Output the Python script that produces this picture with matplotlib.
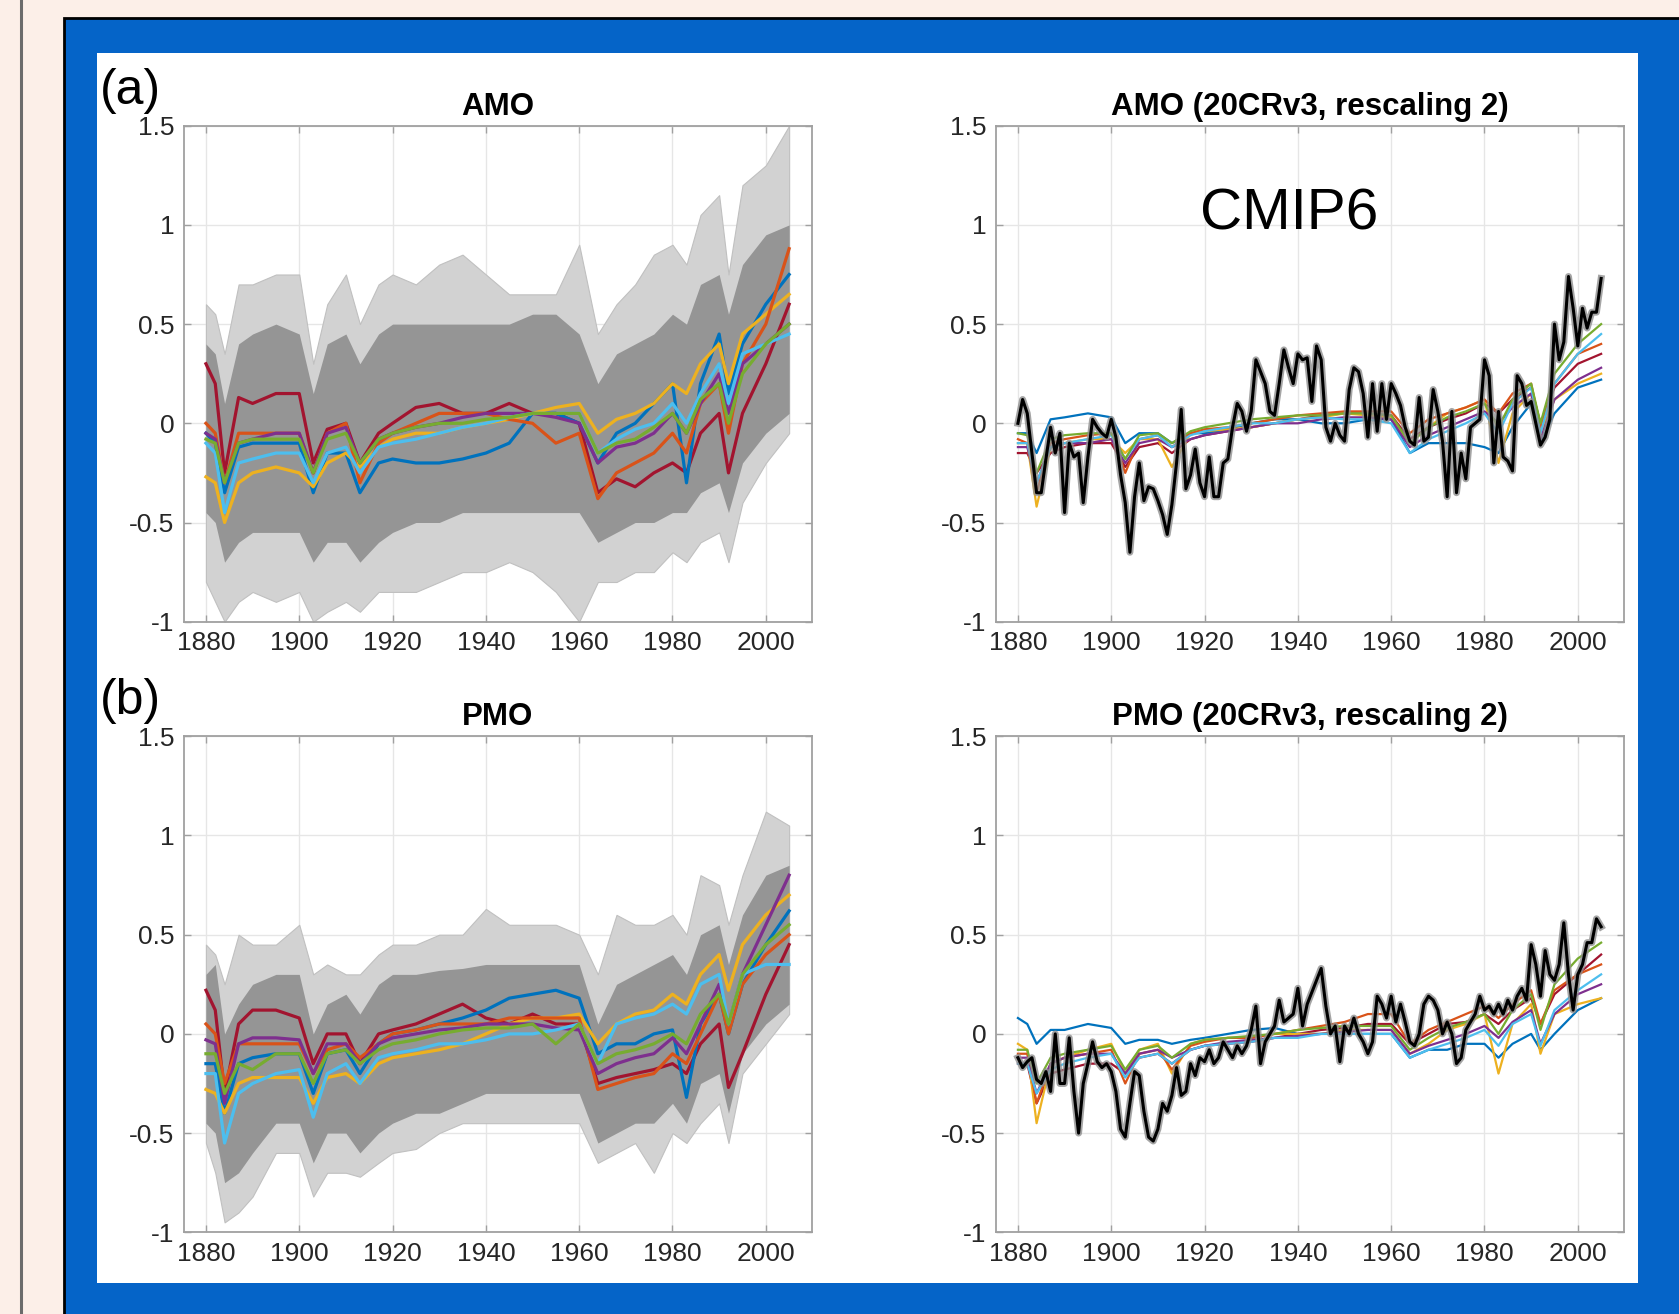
import numpy as np
import matplotlib.pyplot as plt
from matplotlib.patches import Rectangle
from matplotlib.lines import Line2D

plt.rcParams['font.family'] = ['Liberation Sans', 'DejaVu Sans']

# ---------------- data ----------------
years = np.arange(1880, 2006)

# key years used for the model means and the grey ensemble envelope
yrs_k = [1880, 1882, 1884, 1887, 1890, 1895, 1900, 1903, 1906, 1910, 1913,
         1917, 1920, 1925, 1930, 1935, 1940, 1945, 1950, 1955, 1960, 1964,
         1968, 1972, 1976, 1980, 1983, 1986, 1990, 1992, 1995, 2000, 2005]

# MATLAB default line colours, one per model
mod_colors = ['#A2142F', '#0072BD', '#EDB120', '#D95319', '#7E2F8E', '#4DBEEE', '#77AC30']

# (a) AMO, CMIP6 ensemble members (grey envelope)
amo_out_hi = [0.6, 0.55, 0.35, 0.7, 0.7, 0.75, 0.75, 0.3, 0.6, 0.75, 0.5, 0.7, 0.75, 0.7, 0.8, 0.85, 0.75,
              0.65, 0.65, 0.65, 0.9, 0.45, 0.6, 0.7, 0.85, 0.9, 0.8, 1.05, 1.15, 0.75, 1.2, 1.3, 1.5]
amo_core_hi = [0.4, 0.35, 0.1, 0.4, 0.45, 0.5, 0.45, 0.15, 0.4, 0.45, 0.3, 0.45, 0.5, 0.5, 0.5, 0.5, 0.5,
               0.5, 0.55, 0.55, 0.45, 0.2, 0.35, 0.4, 0.45, 0.55, 0.5, 0.7, 0.75, 0.55, 0.8, 0.95, 1.0]
amo_core_lo = [-0.45, -0.5, -0.7, -0.6, -0.55, -0.55, -0.55, -0.7, -0.6, -0.6, -0.7, -0.6, -0.55, -0.5, -0.5,
               -0.45, -0.45, -0.45, -0.45, -0.45, -0.45, -0.6, -0.55, -0.5, -0.5, -0.45, -0.45, -0.35, -0.3,
               -0.45, -0.2, -0.05, 0.05]
amo_out_lo = [-0.8, -0.9, -1.0, -0.9, -0.85, -0.9, -0.85, -1.0, -0.95, -0.9, -0.95, -0.85, -0.85, -0.85, -0.8,
              -0.75, -0.75, -0.7, -0.75, -0.85, -1.0, -0.8, -0.8, -0.75, -0.75, -0.65, -0.7, -0.6, -0.55,
              -0.7, -0.4, -0.2, -0.05]

# (a) AMO, model means (left)
amo_mod = [
    [0.3, 0.2, -0.25, 0.13, 0.1, 0.15, 0.15, -0.2, -0.03, 0.0, -0.2, -0.05, 0.0, 0.08, 0.1, 0.05, 0.05,
     0.1, 0.05, 0.05, 0.0, -0.35, -0.28, -0.32, -0.25, -0.2, -0.25, -0.05, 0.05, -0.25, 0.05, 0.3, 0.6],
    [-0.05, -0.1, -0.35, -0.12, -0.1, -0.1, -0.1, -0.35, -0.15, -0.15, -0.35, -0.2, -0.18, -0.2, -0.2, -0.18,
     -0.15, -0.1, 0.05, 0.05, 0.0, -0.2, -0.05, 0.0, 0.1, 0.2, -0.3, 0.2, 0.45, 0.15, 0.4, 0.6, 0.75],
    [-0.27, -0.3, -0.5, -0.3, -0.25, -0.22, -0.25, -0.32, -0.2, -0.15, -0.22, -0.12, -0.08, -0.05, -0.05,
     -0.02, 0.0, 0.02, 0.05, 0.08, 0.1, -0.05, 0.02, 0.05, 0.1, 0.2, 0.15, 0.3, 0.4, 0.2, 0.45, 0.55, 0.65],
    [0.0, -0.05, -0.3, -0.05, -0.05, -0.05, -0.05, -0.25, -0.05, 0.0, -0.3, -0.1, -0.05, 0.0, 0.05, 0.05,
     0.05, 0.02, 0.0, -0.1, -0.05, -0.38, -0.25, -0.2, -0.15, -0.05, -0.15, 0.1, 0.2, -0.05, 0.3, 0.5, 0.88],
    [-0.05, -0.08, -0.3, -0.1, -0.08, -0.05, -0.05, -0.25, -0.05, -0.02, -0.2, -0.08, -0.05, -0.02, 0.0,
     0.03, 0.05, 0.05, 0.05, 0.03, 0.0, -0.2, -0.12, -0.1, -0.05, 0.05, -0.05, 0.1, 0.25, 0.05, 0.3, 0.4, 0.5],
    [-0.1, -0.15, -0.45, -0.2, -0.18, -0.15, -0.15, -0.3, -0.15, -0.12, -0.25, -0.12, -0.1, -0.08, -0.05,
     -0.02, 0.0, 0.03, 0.05, 0.05, 0.05, -0.15, -0.08, -0.03, 0.0, 0.1, 0.0, 0.15, 0.3, 0.1, 0.35, 0.4, 0.45],
    [-0.08, -0.1, -0.3, -0.1, -0.08, -0.08, -0.08, -0.25, -0.08, -0.05, -0.2, -0.08, -0.05, -0.02, 0.0, 0.0,
     0.02, 0.03, 0.05, 0.05, 0.05, -0.15, -0.1, -0.08, -0.02, 0.05, -0.05, 0.12, 0.2, 0.0, 0.25, 0.4, 0.5],
]

# (b) PMO, CMIP6 ensemble members (grey envelope)
pmo_out_hi = [0.45, 0.4, 0.25, 0.5, 0.45, 0.45, 0.55, 0.3, 0.35, 0.3, 0.3, 0.4, 0.45, 0.45, 0.5, 0.5, 0.63,
              0.55, 0.55, 0.55, 0.5, 0.3, 0.6, 0.55, 0.55, 0.6, 0.5, 0.8, 0.75, 0.55, 0.8, 1.12, 1.05]
pmo_core_hi = [0.3, 0.35, 0.0, 0.15, 0.25, 0.3, 0.3, 0.0, 0.15, 0.2, 0.1, 0.25, 0.3, 0.3, 0.32, 0.33, 0.35,
               0.35, 0.35, 0.35, 0.35, 0.05, 0.25, 0.3, 0.35, 0.4, 0.3, 0.5, 0.55, 0.35, 0.6, 0.8, 0.85]
pmo_core_lo = [-0.45, -0.5, -0.75, -0.7, -0.6, -0.45, -0.45, -0.65, -0.5, -0.5, -0.6, -0.5, -0.45, -0.4,
               -0.4, -0.35, -0.3, -0.3, -0.3, -0.3, -0.3, -0.55, -0.5, -0.45, -0.45, -0.35, -0.45, -0.25,
               -0.2, -0.4, -0.1, 0.05, 0.15]
pmo_out_lo = [-0.55, -0.7, -0.95, -0.9, -0.82, -0.6, -0.6, -0.82, -0.7, -0.7, -0.72, -0.65, -0.6, -0.58,
              -0.5, -0.45, -0.45, -0.45, -0.45, -0.45, -0.45, -0.65, -0.6, -0.55, -0.7, -0.5, -0.55, -0.45,
              -0.35, -0.55, -0.2, -0.05, 0.1]

# (b) PMO, model means (left)
pmo_mod = [
    [0.22, 0.12, -0.3, 0.05, 0.12, 0.12, 0.08, -0.15, 0.0, 0.0, -0.15, 0.0, 0.02, 0.05, 0.1, 0.15, 0.08,
     0.05, 0.1, 0.05, 0.05, -0.25, -0.22, -0.2, -0.18, -0.15, -0.2, -0.05, 0.05, -0.27, -0.1, 0.2, 0.45],
    [-0.15, -0.15, -0.4, -0.15, -0.12, -0.1, -0.1, -0.3, -0.1, -0.08, -0.2, -0.05, 0.0, 0.02, 0.05, 0.08,
     0.12, 0.18, 0.2, 0.22, 0.18, -0.1, -0.05, -0.05, 0.0, 0.02, -0.32, 0.05, 0.2, 0.0, 0.25, 0.45, 0.62],
    [-0.28, -0.3, -0.4, -0.25, -0.22, -0.22, -0.22, -0.35, -0.22, -0.2, -0.25, -0.15, -0.12, -0.1, -0.08,
     -0.05, 0.0, 0.05, 0.08, 0.08, 0.1, -0.05, 0.05, 0.1, 0.12, 0.2, 0.15, 0.3, 0.4, 0.22, 0.45, 0.6, 0.7],
    [0.05, 0.0, -0.25, -0.05, -0.05, -0.05, -0.05, -0.2, -0.08, -0.05, -0.12, -0.05, 0.0, 0.02, 0.05, 0.05,
     0.05, 0.08, 0.08, 0.08, 0.08, -0.28, -0.25, -0.22, -0.2, -0.1, -0.15, 0.0, 0.2, 0.0, 0.25, 0.4, 0.5],
    [-0.03, -0.05, -0.35, -0.05, -0.02, -0.02, -0.03, -0.2, -0.05, -0.05, -0.15, -0.05, -0.02, 0.0, 0.02,
     0.03, 0.05, 0.05, 0.05, 0.03, 0.02, -0.2, -0.15, -0.12, -0.1, -0.02, -0.1, 0.05, 0.25, 0.05, 0.3, 0.55, 0.8],
    [-0.2, -0.2, -0.55, -0.3, -0.25, -0.2, -0.18, -0.42, -0.2, -0.15, -0.25, -0.12, -0.1, -0.08, -0.05,
     -0.05, -0.03, 0.0, 0.0, 0.02, 0.05, -0.15, 0.05, 0.08, 0.1, 0.15, 0.1, 0.25, 0.3, 0.05, 0.3, 0.35, 0.35],
    [-0.1, -0.1, -0.3, -0.15, -0.18, -0.1, -0.1, -0.25, -0.1, -0.08, -0.15, -0.08, -0.05, -0.03, 0.0, 0.02,
     0.03, 0.03, 0.05, -0.05, 0.05, -0.15, -0.1, -0.08, -0.05, 0.0, -0.05, 0.1, 0.2, 0.05, 0.3, 0.45, 0.55],
]

# AMO, rescaled model means (right)
amo_mod_rs = [
    [-0.15, -0.15, -0.25, -0.15, -0.12, -0.1, -0.1, -0.22, -0.12, -0.1, -0.15, -0.08, -0.06, -0.04, -0.02,
     0.0, 0.02, 0.04, 0.05, 0.05, 0.04, -0.08, -0.02, 0.02, 0.05, 0.1, 0.05, 0.12, 0.18, 0.0, 0.18, 0.3, 0.35],
    [-0.05, -0.05, -0.15, 0.02, 0.03, 0.05, 0.03, -0.1, -0.05, -0.05, -0.1, -0.05, -0.05, -0.03, 0.0, 0.02,
     0.02, 0.0, 0.0, 0.02, 0.02, -0.15, -0.1, -0.1, -0.1, -0.12, -0.15, -0.02, 0.1, -0.1, 0.05, 0.18, 0.22],
    [-0.1, -0.1, -0.42, -0.12, -0.1, -0.08, -0.08, -0.15, -0.08, -0.08, -0.22, -0.05, -0.04, -0.03, -0.02,
     0.0, 0.02, 0.03, 0.05, 0.04, 0.03, -0.1, -0.02, 0.05, 0.08, 0.12, -0.2, 0.05, 0.15, -0.05, 0.12, 0.2, 0.25],
    [-0.08, -0.1, -0.35, -0.1, -0.08, -0.06, -0.05, -0.25, -0.08, -0.06, -0.12, -0.05, -0.03, -0.02, 0.0,
     0.02, 0.04, 0.05, 0.06, 0.06, 0.06, -0.05, 0.02, 0.05, 0.08, 0.12, 0.05, 0.15, 0.2, -0.02, 0.2, 0.35, 0.4],
    [-0.12, -0.12, -0.3, -0.12, -0.1, -0.1, -0.08, -0.2, -0.1, -0.08, -0.12, -0.08, -0.06, -0.04, -0.02,
     0.0, 0.0, 0.02, 0.03, 0.03, 0.02, -0.12, -0.06, -0.02, 0.02, 0.06, 0.0, 0.08, 0.15, -0.08, 0.12, 0.22, 0.28],
    [-0.1, -0.1, -0.3, -0.12, -0.1, -0.08, -0.06, -0.18, -0.08, -0.06, -0.12, -0.06, -0.04, -0.02, 0.0, 0.0,
     0.02, 0.03, 0.02, 0.02, 0.0, -0.15, -0.08, -0.04, 0.0, 0.05, -0.05, 0.1, 0.18, -0.05, 0.2, 0.35, 0.45],
    [-0.05, -0.06, -0.25, -0.08, -0.06, -0.05, -0.05, -0.18, -0.06, -0.05, -0.1, -0.04, -0.02, 0.0, 0.02,
     0.03, 0.04, 0.04, 0.05, 0.05, 0.04, -0.1, -0.02, 0.03, 0.06, 0.1, -0.02, 0.12, 0.2, 0.0, 0.25, 0.4, 0.5],
]

# PMO, rescaled model means (right)
pmo_mod_rs = [
    [-0.15, -0.15, -0.35, -0.2, -0.18, -0.15, -0.15, -0.2, -0.12, -0.1, -0.15, -0.08, -0.06, -0.05, -0.04,
     -0.02, 0.0, 0.02, 0.03, 0.05, 0.05, -0.05, 0.0, 0.05, 0.06, 0.1, 0.05, 0.12, 0.18, 0.05, 0.2, 0.3, 0.4],
    [0.08, 0.05, -0.05, 0.02, 0.02, 0.05, 0.03, -0.05, -0.03, -0.03, -0.05, -0.03, -0.02, 0.0, 0.02, 0.03,
     0.0, 0.0, 0.0, 0.0, 0.0, -0.12, -0.08, -0.08, -0.05, -0.05, -0.12, -0.05, 0.0, -0.08, 0.0, 0.12, 0.18],
    [-0.05, -0.08, -0.45, -0.15, -0.12, -0.08, -0.05, -0.2, -0.08, -0.05, -0.2, -0.05, -0.03, -0.02, -0.02,
     0.0, 0.0, 0.0, 0.02, 0.02, 0.02, -0.1, -0.05, 0.02, 0.05, 0.1, -0.2, 0.05, 0.15, -0.1, 0.1, 0.15, 0.18],
    [-0.1, -0.1, -0.35, -0.15, -0.12, -0.1, -0.08, -0.25, -0.1, -0.08, -0.18, -0.06, -0.04, -0.02, -0.02,
     0.0, 0.02, 0.04, 0.06, 0.1, 0.1, -0.05, 0.02, 0.06, 0.1, 0.14, 0.08, 0.15, 0.22, 0.05, 0.22, 0.3, 0.35],
    [-0.12, -0.12, -0.3, -0.15, -0.12, -0.1, -0.1, -0.2, -0.1, -0.08, -0.12, -0.08, -0.06, -0.04, -0.03,
     -0.02, -0.01, 0.0, 0.01, 0.02, 0.02, -0.1, -0.06, -0.03, 0.0, 0.04, -0.02, 0.06, 0.12, -0.05, 0.1, 0.2, 0.25],
    [-0.15, -0.15, -0.3, -0.18, -0.15, -0.12, -0.1, -0.22, -0.12, -0.1, -0.15, -0.08, -0.06, -0.05, -0.04,
     -0.02, -0.02, 0.0, 0.0, 0.0, 0.0, -0.12, -0.08, -0.05, -0.02, 0.02, -0.06, 0.05, 0.1, -0.06, 0.12, 0.22, 0.3],
    [-0.08, -0.08, -0.25, -0.12, -0.1, -0.08, -0.06, -0.18, -0.08, -0.06, -0.12, -0.05, -0.03, -0.02, -0.01,
     0.0, 0.02, 0.03, 0.04, 0.04, 0.04, -0.08, -0.02, 0.03, 0.06, 0.1, 0.0, 0.12, 0.2, 0.02, 0.25, 0.38, 0.46],
]

# 20CRv3 reconstructions (black), one value per year 1880-2005
amo_obs = [0.0, 0.12, 0.05, -0.15, -0.35, -0.35, -0.18, -0.02, -0.15, -0.05,
           -0.45, -0.10, -0.17, -0.15, -0.40, -0.17, 0.02, -0.02, -0.05, -0.07,
           0.02, -0.07, -0.26, -0.40, -0.65, -0.37, -0.20, -0.39, -0.32, -0.33,
           -0.39, -0.46, -0.56, -0.41, -0.20, 0.07, -0.33, -0.26, -0.13, -0.30,
           -0.37, -0.17, -0.37, -0.37, -0.20, -0.18, -0.02, 0.10, 0.06, -0.04,
           0.06, 0.32, 0.26, 0.20, 0.06, 0.04, 0.20, 0.37, 0.28, 0.20,
           0.35, 0.32, 0.33, 0.11, 0.39, 0.32, -0.02, -0.09, 0.00, -0.06,
           -0.09, 0.17, 0.28, 0.26, 0.15, -0.07, 0.20, -0.04, 0.20, 0.02,
           0.20, 0.15, 0.09, -0.02, -0.09, -0.11, 0.13, -0.09, -0.07, 0.17,
           0.06, -0.09, -0.37, 0.06, -0.35, -0.15, -0.28, -0.02, 0.00, 0.02,
           0.32, 0.24, -0.20, 0.06, -0.17, -0.19, -0.24, 0.24, 0.20, 0.09,
           0.11, 0.00, -0.11, -0.07, 0.02, 0.50, 0.32, 0.41, 0.74, 0.58,
           0.39, 0.58, 0.48, 0.56, 0.56, 0.73]
pmo_obs = [-0.12, -0.17, -0.14, -0.12, -0.23, -0.25, -0.19, -0.29, 0.00, -0.25,
           -0.25, -0.02, -0.29, -0.50, -0.25, -0.15, -0.04, -0.14, -0.17, -0.15,
           -0.19, -0.29, -0.48, -0.52, -0.35, -0.19, -0.21, -0.39, -0.52, -0.54,
           -0.48, -0.35, -0.39, -0.31, -0.17, -0.31, -0.29, -0.15, -0.21, -0.12,
           -0.14, -0.08, -0.15, -0.12, -0.04, -0.08, -0.12, -0.06, -0.10, -0.06,
           0.02, 0.14, -0.15, -0.04, 0.00, 0.04, 0.17, 0.06, 0.08, 0.10,
           0.23, 0.04, 0.15, 0.21, 0.27, 0.33, 0.14, 0.00, 0.04, -0.14,
           0.04, 0.00, 0.08, 0.00, -0.04, -0.10, -0.04, 0.19, 0.15, 0.08,
           0.19, 0.06, 0.15, 0.06, -0.04, -0.06, 0.00, 0.15, 0.19, 0.17,
           0.12, 0.00, 0.06, 0.00, -0.15, -0.12, 0.02, 0.06, 0.10, 0.19,
           0.12, 0.14, 0.10, 0.15, 0.10, 0.17, 0.12, 0.19, 0.23, 0.17,
           0.45, 0.35, 0.19, 0.42, 0.30, 0.27, 0.35, 0.56, 0.30, 0.12,
           0.30, 0.35, 0.46, 0.46, 0.58, 0.54]

xticks = [1880, 1900, 1920, 1940, 1960, 1980, 2000]
yticks = [-1, -0.5, 0, 0.5, 1, 1.5]
ytick_labels = ['-1', '-0.5', '0', '0.5', '1', '1.5']

# ---------------- figure ----------------
W, H = 1679, 1314
fig = plt.figure(figsize=(W / 100, H / 100), dpi=100)
fig.patch.set_facecolor('#fcefe8')

fig.add_artist(Line2D([21 / W, 21 / W], [0, 1], color='#6b6b6b', lw=2.2, zorder=-3))
fig.add_artist(Rectangle((64 / W, -0.01), 1.0, 1 - 18 / H + 0.01, transform=fig.transFigure,
                         facecolor='#0564c8', edgecolor='black', lw=2, zorder=-2))
fig.add_artist(Rectangle((97 / W, 1 - 1283 / H), (1638 - 97) / W, (1283 - 53) / H,
                         transform=fig.transFigure, facecolor='white', edgecolor='none', zorder=-1))


def style(ax, title):
    ax.set_xlim(1875.3, 2009.9)
    ax.set_ylim(-1, 1.5)
    ax.set_xticks(xticks)
    ax.set_yticks(yticks)
    ax.set_yticklabels(ytick_labels)
    ax.grid(True, color='#e6e6e6', lw=1.0)
    ax.set_axisbelow(True)
    for s in ax.spines.values():
        s.set_color('#a0a0a0')
        s.set_linewidth(1.3)
    ax.tick_params(direction='in', top=True, right=True, length=5, width=1, color='#a0a0a0',
                   labelsize=19, labelcolor='#262626', pad=7)
    ax.set_title(title, fontsize=22.5, fontweight='bold', pad=8)


axw, axh = 628 / W, 496 / H
ax_a = fig.add_axes([184 / W, 1 - 621.7 / H, axw, axh])
ax_ar = fig.add_axes([996 / W, 1 - 621.7 / H, axw, axh])
ax_b = fig.add_axes([184 / W, 1 - 1232.3 / H, axw, axh])
ax_br = fig.add_axes([996 / W, 1 - 1232.3 / H, axw, axh])

# left panels: grey ensemble + model means
for ax, olo, clo, chi, ohi, mods in [(ax_a, amo_out_lo, amo_core_lo, amo_core_hi, amo_out_hi, amo_mod),
                                     (ax_b, pmo_out_lo, pmo_core_lo, pmo_core_hi, pmo_out_hi, pmo_mod)]:
    ax.fill_between(yrs_k, olo, ohi, color='#d2d2d2', lw=0.8, edgecolor='#c0c0c0')
    ax.fill_between(yrs_k, clo, chi, color='#959595', lw=0)
    for vals, c in zip(mods, mod_colors):
        ax.plot(yrs_k, vals, color=c, lw=2.3)

# right panels: rescaled model means + 20CRv3
for ax, mods, obs in [(ax_ar, amo_mod_rs, amo_obs), (ax_br, pmo_mod_rs, pmo_obs)]:
    for vals, c in zip(mods, mod_colors):
        ax.plot(yrs_k, vals, color=c, lw=1.6)
    ax.plot(years, obs, color='#8f8f8f', lw=5, alpha=0.8)
    ax.plot(years, obs, color='black', lw=2.2)

style(ax_a, 'AMO')
style(ax_ar, 'AMO (20CRv3, rescaling 2)')
style(ax_b, 'PMO')
style(ax_br, 'PMO (20CRv3, rescaling 2)')

ax_ar.text(1938.1, 0.975, 'CMIP6', fontsize=42, ha='center', va='baseline')

fig.text(100 / W, 1 - 104 / H, '(a)', fontsize=36, ha='left', va='baseline')
fig.text(100 / W, 1 - 714 / H, '(b)', fontsize=36, ha='left', va='baseline')

fig.savefig('out.png', dpi=100, facecolor=fig.get_facecolor())
